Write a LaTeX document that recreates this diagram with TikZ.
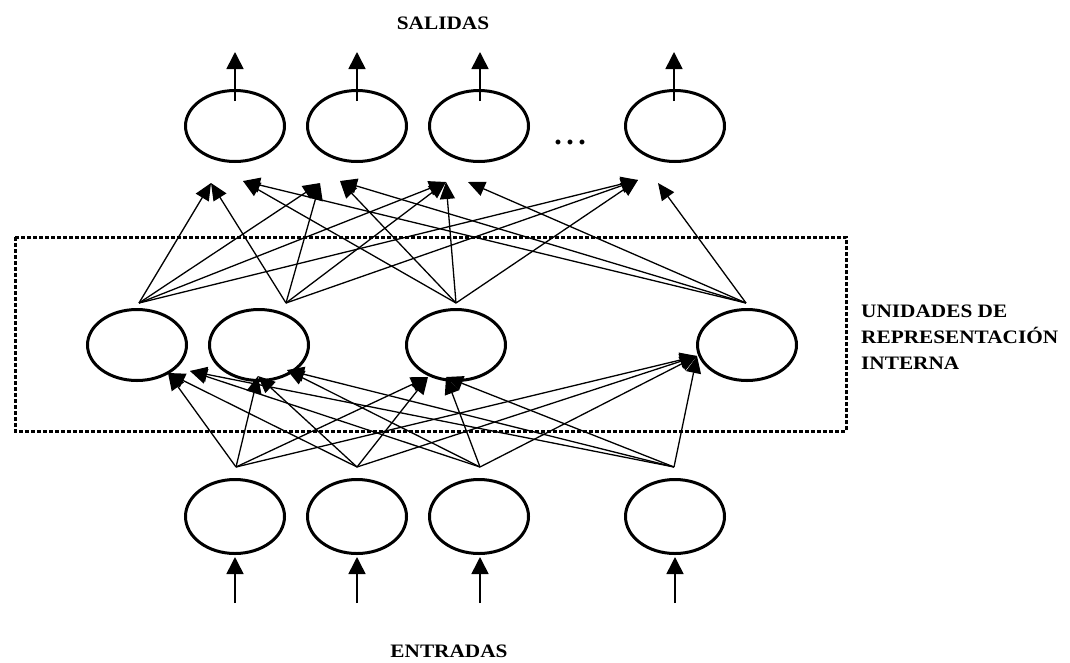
\documentclass[tikz,border=0pt]{standalone}
\usepackage{fontspec}
\setmainfont{Liberation Serif}
\usetikzlibrary{arrows.meta,shapes.geometric}
\newcommand{\wide}[1]{\scalebox{1.12}[1]{#1}}
\begin{document}
\begin{tikzpicture}[x=1pt,y=-1pt,
  unit/.style={draw, ellipse, line width=3pt, minimum width=99pt, minimum height=71pt, inner sep=0pt},
  inunit/.style={unit, minimum height=74pt},
  link/.style={line width=1.3pt, -{Triangle[width=15pt,length=17pt]}},
  io/.style={line width=1.6pt, -{Triangle[width=17pt,length=17pt]}},
  lbl/.style={font=\bfseries\fontsize{19}{19}\selectfont, inner sep=0pt},
  side/.style={inner sep=0pt, align=left, font=\bfseries\fontsize{19}{26}\selectfont}
]
\useasboundingbox (0,0) rectangle (1070,662);

% output layer
\node[unit] (o1) at (235,126) {};
\node[unit] (o2) at (357,126) {};
\node[unit] (o3) at (479,126) {};
\node[unit] (o4) at (675,126) {};
\node[font=\bfseries\fontsize{30}{30}\selectfont, inner sep=0pt, anchor=base] (dots) at (570,144) {.\hspace{4.5pt}.\hspace{4.5pt}.};
\node[lbl] (salidas) at (443,23) {\wide{SALIDAS}};

% hidden layer
\node[unit] (h1) at (137,345) {};
\node[unit] (h2) at (259,345) {};
\node[unit] (h3) at (456,345) {};
\node[unit] (h4) at (747,345) {};
\draw[line width=3pt, dash pattern=on 4pt off 2pt] (15,237) rectangle (846,431);
\node[side, anchor=north west] (internas) at (861,305) {\wide{UNIDADES DE}\\\wide{REPRESENTACIÓN}\\\wide{INTERNA}};

% input layer
\node[inunit] (i1) at (235,516.5) {};
\node[inunit] (i2) at (357,516.5) {};
\node[inunit] (i3) at (479,516.5) {};
\node[inunit] (i4) at (675,516.5) {};
\node[lbl] (entradas) at (449,651) {\wide{ENTRADAS}};

% output arrows
\foreach \k/\x in {1/235,2/357,3/480,4/674} {
  \coordinate (ob\k) at (\x,101);
  \coordinate (ot\k) at (\x,52);
  \draw[io] (ob\k) -- (ot\k);
}
% input arrows
\foreach \k/\x in {1/235,2/357,3/480,4/675} {
  \coordinate (ib\k) at (\x,603);
  \coordinate (it\k) at (\x,557);
  \draw[io] (ib\k) -- (it\k);
}

% fan-out points above the hidden units and above the input units
\coordinate (t1) at (139,303);
\coordinate (t2) at (286,303);
\coordinate (t3) at (456,303);
\coordinate (t4) at (746,303);
\coordinate (s1) at (236,467);
\coordinate (s2) at (357,467);
\coordinate (s3) at (480,467);
\coordinate (s4) at (674,467);

% arrow ends below the output units
\coordinate (o1a) at (211,183);
\coordinate (o1b) at (243,181);
\coordinate (o2a) at (320,183);
\coordinate (o2b) at (340,181);
\coordinate (o3a) at (446,182);
\coordinate (o3b) at (468,182);
\coordinate (o4a) at (638,180);
\coordinate (o4b) at (658,183);

% arrow ends on the hidden units
\coordinate (h1a) at (168,373);
\coordinate (h1b) at (190,371);
\coordinate (h2a) at (258,376);
\coordinate (h2b) at (287,370);
\coordinate (h3a) at (428,377);
\coordinate (h3b) at (446,377);
\coordinate (h4a) at (697,356);

% hidden -> output
\foreach \s/\t in {t1/o1a,t2/o1a,t3/o1b,t4/o1b,
                   t1/o2a,t2/o2a,t3/o2b,t4/o2b,
                   t1/o3a,t2/o3a,t3/o3a,t4/o3b,
                   t1/o4a,t2/o4a,t3/o4a,t4/o4b}
  \draw[link] (\s) -- (\t);

% input -> hidden
\foreach \s/\t in {s1/h1a,s2/h1a,s3/h1b,s4/h1b,
                   s1/h2a,s2/h2a,s3/h2b,s4/h2b,
                   s1/h3a,s2/h3a,s3/h3b,s4/h3b,
                   s1/h4a,s2/h4a,s3/h4a,s4/h4a}
  \draw[link] (\s) -- (\t);
\end{tikzpicture}
\end{document}
